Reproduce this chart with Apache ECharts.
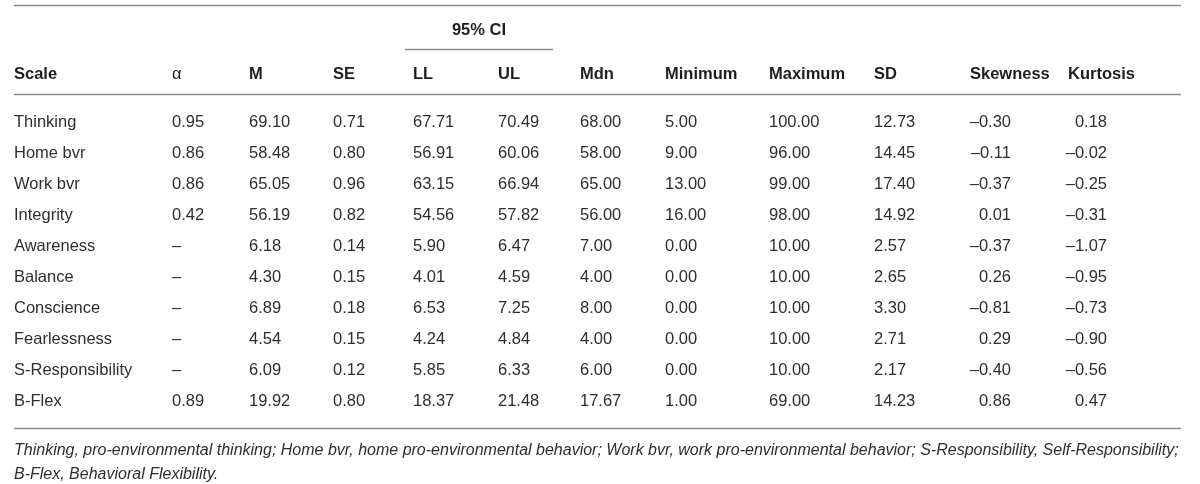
<!DOCTYPE html>
<html>
<head>
<meta charset="utf-8">
<script src="https://cdn.jsdelivr.net/npm/echarts@6/dist/echarts.min.js"></script>
<style>
html,body{margin:0;padding:0;background:#fff;}
#main{width:1200px;height:484px;}
</style>
</head>
<body>
<div id="main"></div>
<script>
// ---- data ----
const rowNames = ['Thinking','Home bvr','Work bvr','Integrity','Awareness','Balance','Conscience','Fearlessness','S-Responsibility','B-Flex'];
const headers = ['Scale','α','M','SE','LL','UL','Mdn','Minimum','Maximum','SD','Skewness','Kurtosis'];
const alpha = [0.95,0.86,0.86,0.42,null,null,null,null,null,0.89];
const meanV = [69.10,58.48,65.05,56.19,6.18,4.30,6.89,4.54,6.09,19.92];
const seV = [0.71,0.80,0.96,0.82,0.14,0.15,0.18,0.15,0.12,0.80];
const llV = [67.71,56.91,63.15,54.56,5.90,4.01,6.53,4.24,5.85,18.37];
const ulV = [70.49,60.06,66.94,57.82,6.47,4.59,7.25,4.84,6.33,21.48];
const mdnV = [68.00,58.00,65.00,56.00,7.00,4.00,8.00,4.00,6.00,17.67];
const minV = [5.00,9.00,13.00,16.00,0.00,0.00,0.00,0.00,0.00,1.00];
const maxV = [100.00,96.00,99.00,98.00,10.00,10.00,10.00,10.00,10.00,69.00];
const sdV = [12.73,14.45,17.40,14.92,2.57,2.65,3.30,2.71,2.17,14.23];
const skewV = [-0.30,-0.11,-0.37,0.01,-0.37,0.26,-0.81,0.29,-0.40,0.86];
const kurtV = [0.18,-0.02,-0.25,-0.31,-1.07,-0.95,-0.73,-0.90,-0.56,0.47];
const ciLabel = '95% CI';
const footnote = [
  'Thinking, pro-environmental thinking; Home bvr, home pro-environmental behavior; Work bvr, work pro-environmental behavior; S-Responsibility, Self-Responsibility;',
  'B-Flex, Behavioral Flexibility.'
];

// ---- layout ----
const colX = [14,172,249,333,413,498,580,665,769,874,1011,1107];   // anchor x of each column
const colAlign = ['left','left','left','left','left','left','left','left','left','left','right','right'];
const headX = [14,172,249,333,413,498,580,665,769,874,970,1068];
const FONT = '"Liberation Sans", Arial, sans-serif';
const TXT = '#2e2e2e';
const HEAD = '#1e1e1e';
const LINE = '#8c8c8c';

function fmt(v){
  if (v === null || v === undefined) return '–';
  const s = Math.abs(v).toFixed(2);
  return v < 0 ? '–' + s : s;
}
const columns = [rowNames, alpha, meanV, seV, llV, ulV, mdnV, minV, maxV, sdV, skewV, kurtV];

const data = [];
for (let r = 0; r < rowNames.length; r++) {
  for (let c = 0; c < columns.length; c++) {
    const v = columns[c][r];
    data.push({ value: [colX[c], r, c], text: c === 0 ? v : fmt(v) });
  }
}

const rowH = 31.1, rowTop = 122 - rowH / 2;
const chart = echarts.init(document.getElementById('main'), null, {renderer:'canvas'});

const graphics = [];
function hline(x1, x2, y){
  graphics.push({type:'line', shape:{x1:x1,y1:y,x2:x2,y2:y}, style:{stroke:LINE, lineWidth:1.3}, silent:true});
}
hline(14, 1181, 5.5);
hline(405, 553, 49.5);
hline(14, 1181, 94.5);
hline(14, 1181, 428.5);
graphics.push({type:'text', x:(405+553)/2, y:30, style:{text:ciLabel, font:'bold 16.5px '+FONT, fill:HEAD, textAlign:'center', textVerticalAlign:'middle'}});
headers.forEach((h, i) => {
  graphics.push({type:'text', x:headX[i], y:74, style:{text:h, font:(i===1?'':'bold ')+'16.5px '+FONT, fill:HEAD, textAlign:'left', textVerticalAlign:'middle'}});
});
footnote.forEach((t, i) => {
  graphics.push({type:'text', x:14, y:451 + i*24, style:{text:t, font:'italic 16px '+FONT, fill:TXT, textAlign:'left', textVerticalAlign:'middle'}});
});

chart.setOption({
  animation:false,
  backgroundColor:'#fff',
  grid:{left:0, width:1200, top:rowTop, height:rowH*rowNames.length},
  xAxis:{type:'value', min:0, max:1200, show:false},
  yAxis:{type:'value', min:-0.5, max:rowNames.length-0.5, inverse:true, show:false},
  series:[{
    type:'custom',
    data:data,
    renderItem:function(params, api){
      const c = api.value(2);
      const p = api.coord([api.value(0), api.value(1)]);
      return {type:'text', x:p[0], y:p[1],
        style:{text:data[params.dataIndex].text, font:'16.5px '+FONT, fill:TXT, textAlign:colAlign[c], textVerticalAlign:'middle'}};
    }
  }],
  graphic:graphics
});
</script>
</body>
</html>
